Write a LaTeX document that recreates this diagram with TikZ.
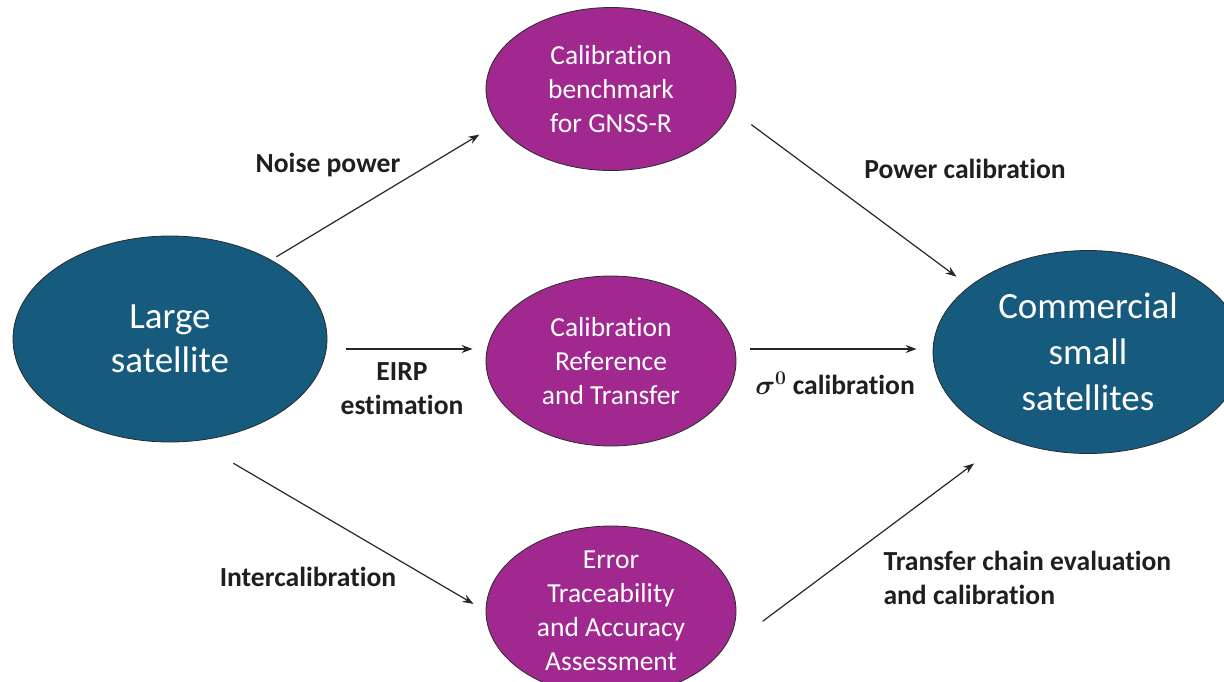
\documentclass[tikz,border=0pt]{standalone}
\usepackage{fix-cm}
\usepackage{bm}
\usepackage{fontspec}
\setmainfont{Carlito}[Ligatures=NoCommon]
\usetikzlibrary{arrows.meta,positioning,shapes.geometric}
\definecolor{satblue}{HTML}{165A7D}
\definecolor{calpurple}{HTML}{A0288F}
\definecolor{rimgray}{HTML}{2B2B2B}

\begin{document}
\begin{tikzpicture}[
    x=1pt, y=-1pt,
    sat/.style={ellipse,draw=rimgray,line width=0.8pt,fill=satblue,text=white,align=center,inner sep=0pt},
    cal/.style={ellipse,draw=rimgray,line width=0.8pt,fill=calpurple,text=white,align=center,inner sep=0pt,minimum width=250pt,font=\fontsize{27.5}{34}\selectfont},
    lbl/.style={align=center,font=\bfseries\fontsize{27.6}{34}\selectfont,text=black!88},
    arr/.style={-{Stealth[length=11pt,width=8pt]},line width=1.2pt,draw=black!85}
]
\useasboundingbox (0,0) rectangle (1224,681);
\clip (0,0) rectangle (1224,681);

% satellites
\node[sat,minimum width=314pt,minimum height=206pt,font=\fontsize{37}{44}\selectfont] (large) at (170,339) {Large\\satellite};
\node[sat,minimum width=310pt,minimum height=203pt,font=\fontsize{37}{46}\selectfont] (comm) at (1088,352) {Commercial\\small\\satellites};

% calibration steps
\node[cal,minimum height=163pt] (bench) at (611,89) {Calibration\\benchmark\\for GNSS-R};
\node[cal,minimum height=170pt] (ref) at (611,361) {Calibration\\Reference\\and Transfer};
\node[cal,minimum height=170pt,inner ysep=-8pt] (err) at (611,611) {Error\\Traceability\\and Accuracy\\Assessment};

% connectors
\draw[arr,shorten <=6pt,shorten >=21pt] (large.38) -- (bench.197.5);
\draw[arr,shorten <=24pt,shorten >=16pt] (bench.-10.8) -- (comm.151.8);
\draw[arr,shorten <=19pt,shorten >=13pt] ([yshift=-10pt]large.east) -- ([yshift=12pt]ref.west);
\draw[arr,shorten <=14pt,shorten >=16pt] ([yshift=12pt]ref.east) -- ([yshift=3pt]comm.west);
\draw[arr,shorten <=44pt,shorten >=14pt] (large.-76.5) -- (err.180);
\draw[arr,shorten <=53pt,shorten >=41pt] (err.-21.7) -- (comm.227.9);

% labels
\node[lbl] (noiselbl) at (328,165) {Noise power};
\node[lbl] (powerlbl) at (965,169) {Power calibration};
\node[lbl] (eirplbl) at (402,389) {EIRP\\estimation};
\node[lbl] (sigmalbl) at (835,383) {{\boldmath$\sigma^0$} calibration};
\node[lbl] (interlbl) at (308,577) {Intercalibration};
\node[lbl,anchor=west,align=left] (chainlbl) at (880,578) {Transfer chain evaluation\\and calibration};
\end{tikzpicture}
\end{document}
